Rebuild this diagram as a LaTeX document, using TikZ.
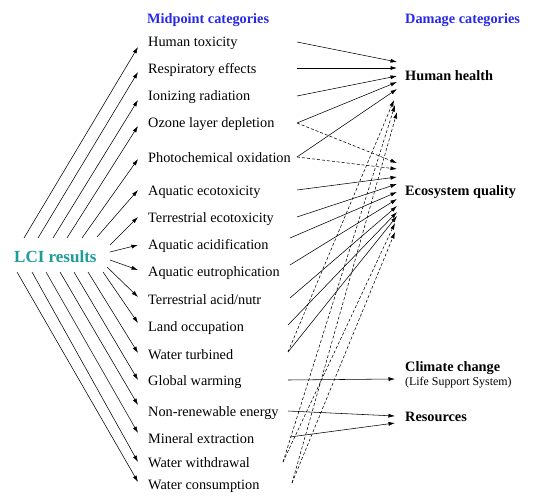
\documentclass[tikz,border=0pt]{standalone}
\usepackage{fontspec}
\setmainfont{Liberation Serif}
\usetikzlibrary{arrows.meta}
\definecolor{hdrblue}{RGB}{40,40,235}
\definecolor{lciteal}{RGB}{30,155,155}
\begin{document}
\begin{tikzpicture}[x=1pt,y=-1pt,
  mid/.style={anchor=west,inner sep=0pt,font=\fontsize{14.3}{16}\selectfont},
  dmg/.style={anchor=west,inner sep=0pt,font=\fontsize{14.3}{16}\selectfont\bfseries},
  hdr/.style={anchor=west,inner sep=0pt,font=\fontsize{14.3}{16}\selectfont\bfseries,text=hdrblue},
  arr/.style={-{Latex[length=6.5pt,width=4pt]},line width=0.55pt},
  darr/.style={arr,dash pattern=on 3pt off 2pt}]
\useasboundingbox (0,0) rectangle (550,499);
\fill[white] (0,0) rectangle (550,499);
% headers
\node[hdr] (hmid) at (147,20) {Midpoint categories};
\node[hdr] (hdmg) at (405,20) {Damage categories};
% LCI
\node[anchor=west,inner sep=0pt,font=\fontsize{17}{19}\selectfont\bfseries,text=lciteal] (lci) at (14,257) {LCI results};
% midpoint categories
\node[mid] (m1) at (148,43) {Human toxicity};
\node[mid] (m2) at (148,70) {Respiratory effects};
\node[mid] (m3) at (148,97) {Ionizing radiation};
\node[mid] (m4) at (148,124) {Ozone layer depletion};
\node[mid] (m5) at (148,158) {Photochemical oxidation};
\node[mid] (m6) at (148,192) {Aquatic ecotoxicity};
\node[mid] (m7) at (148,219) {Terrestrial ecotoxicity};
\node[mid] (m8) at (148,246) {Aquatic acidification};
\node[mid] (m9) at (148,273) {Aquatic eutrophication};
\node[mid] (m10) at (148,300) {Terrestrial acid/nutr};
\node[mid] (m11) at (148,328) {Land occupation};
\node[mid] (m12) at (148,355) {Water turbined};
\node[mid] (m13) at (148,382) {Global warming};
\node[mid] (m14) at (148,413) {Non-renewable energy};
\node[mid] (m15) at (148,439) {Mineral extraction};
\node[mid] (m16) at (148,463) {Water withdrawal};
\node[mid] (m17) at (148,486) {Water consumption};
% damage categories
\node[dmg] (hh) at (405,76) {Human health};
\node[dmg] (eq) at (405,192) {Ecosystem quality};
\node[dmg] (cc) at (405,368) {Climate change};
\node[anchor=west,inner sep=0pt,font=\fontsize{11.9}{13}\selectfont] (lss) at (405,383) {(Life Support System)};
\node[dmg] (res) at (405,417) {Resources};
% LCI -> midpoint
\foreach \i/\sx/\sy/\ey in {1/10/-19/4, 2/24/-19/2, 3/39/-19/3, 4/53/-19/2, 5/68/-19/1, 6/83/-20/-2,
  7/96/-12/-2, 8/96/-5/-1, 9/96/3/-3, 10/93/10/-3, 11/89/15/-5, 12/74/15/-2, 13/60/15/-2,
  14/46/15/-8, 15/32/15/-6, 16/18/15/-1, 17/3/15/-4}
  \draw[arr] ([shift={(\sx,\sy)}]lci.west) -- ([shift={(-10,\ey)}]m\i.west);
% midpoint -> damage
\foreach \i/\sx/\sy/\t/\ex/\ey/\st in {
  1/149/-1/hh/-8/-14/arr, 2/149/-2/hh/-8/-8/arr, 3/149/-1/hh/-8/0/arr, 4/149/-1/hh/-8/6/arr, 5/149/-1/hh/-8/13/arr,
  4/149/-1/eq/-8/-29/darr, 5/149/-1/eq/-8/-23/darr,
  6/149/-2/eq/-8/-15/arr, 7/149/-2/eq/-8/-8/arr, 8/142/-8/eq/-8/0/arr, 9/142/-8/eq/-8/7/arr,
  10/142/-2/eq/-8/14/arr, 11/140/-3/eq/-8/20/arr, 12/140/-3/eq/-8/24/arr,
  12/140/-3/hh/-11/24/darr, 16/135/-1/hh/-10/29/darr, 17/144/-3/hh/-8/36/darr,
  16/135/-1/eq/-10/31/darr, 17/144/-3/eq/-10/40/darr,
  13/140/-2/cc/-10/11/arr, 14/140/-2/res/-10/-1/arr, 15/142/-2/res/-10/6/arr}
  \draw[\st] ([shift={(\sx,\sy)}]m\i.west) -- ([shift={(\ex,\ey)}]\t.west);
\end{tikzpicture}
\end{document}
